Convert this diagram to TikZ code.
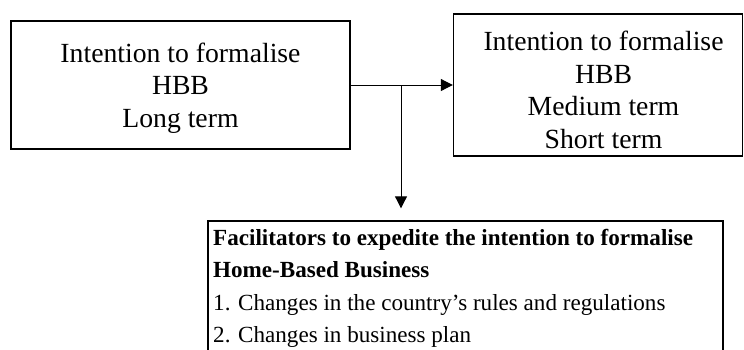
\documentclass[tikz,border=0pt]{standalone}
\usepackage{fontspec}
\setmainfont{Liberation Serif}
\usetikzlibrary{arrows.meta}
\begin{document}
\begin{tikzpicture}[x=1pt,y=-1pt,
  frame/.style={draw=black, line width=1.4pt, inner sep=0pt},
  bigtext/.style={inner sep=0pt, align=center, font=\fontsize{27.7}{32.5}\selectfont},
  listtext/.style={inner sep=0pt, align=left, font=\fontsize{23.1}{32.5}\selectfont},
  link/.style={draw=black, line width=1pt, -{Triangle[length=12pt,width=12pt]}}]
\useasboundingbox (0,0) rectangle (744,349);
\clip (0,0) rectangle (744,349);

% the two intention boxes
\node[frame, minimum width=339pt, minimum height=128pt] (long) at (180.5,85) {};
\node[bigtext] (longtxt) at (180.5,88) {Intention to formalise\\HBB\\Long term};

\node[frame, minimum width=289pt, minimum height=142pt] (short) at (598,85) {};
\node[bigtext] (shorttxt) at (603.5,90) {Intention to formalise\\HBB\\Medium term\\Short term};

% facilitators box, running on below the lower edge
\node[frame, minimum width=515pt, minimum height=200pt] (fac) at (465.5,321) {};
\node[listtext, anchor=north west] (factxt) at (213,229)
  {\textbf{Facilitators to expedite the intention to formalise}\\
   \textbf{Home-Based Business}\\
   1. Changes in the country’s rules and regulations\\
   2. Changes in business plan};

% connectors
\coordinate (j) at (401,86);
\draw[link] (long.east) -- (short.west);
\draw[link, shorten >=12pt] (j) -- (j |- fac.north);
\end{tikzpicture}
\end{document}
